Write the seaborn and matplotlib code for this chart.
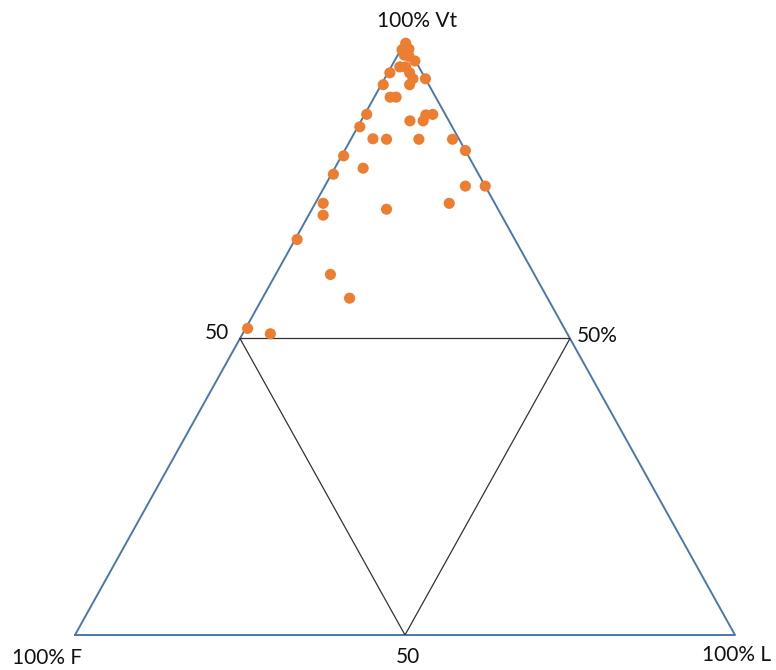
import pandas as pd
import matplotlib
matplotlib.use("Agg")
import matplotlib.pyplot as plt
import seaborn as sns

# ternary composition of each sample, in percent (Vt, F, L)
vt_pct = [99.8, 98.7, 98.8, 97.8, 97.6, 96.8, 95.8, 95.8, 94.8, 94.8,
          93.8, 93.8, 92.8, 92.8, 90.7, 90.7, 87.8, 85.7, 83.6, 83.6,
          86.7, 86.7, 87.7, 87.7, 83.6, 83.6, 81.7, 80.8, 77.7, 78.8,
          75.7, 75.7, 72.8, 72.8, 70.8, 71.8, 66.7, 60.8, 56.8, 51.7, 50.8]
f_pct = [0.0, 1.1, 0.0, 1.2, 0.6, 0.1, 2.9, 2.0, 1.9, 4.9,
         1.9, 0.0, 2.9, 6.9, 6.9, 6.0, 11.9, 14.0, 13.0, 11.0,
         5.9, 3.9, 3.0, 1.9, 6.1, 1.0, 0.0, 18.9, 22.0, 17.0,
         3.0, 0.0, 6.9, 26.0, 27.0, 16.9, 33.0, 30.9, 30.0, 48.0, 45.0]
l_pct = [0.2, 0.2, 1.2, 1.0, 1.8, 3.1, 1.3, 2.2, 3.3, 0.3,
         4.3, 6.2, 4.3, 0.3, 2.4, 3.3, 0.3, 0.3, 3.3, 5.4,
         7.4, 9.4, 9.3, 10.3, 10.3, 15.4, 18.3, 0.3, 0.3, 4.3,
         21.3, 24.3, 20.3, 1.2, 2.2, 11.3, 0.3, 8.3, 13.2, 0.3, 4.2]

corner_labels = ["100% F", "100% L", "100% Vt"]

df = pd.DataFrame({"Vt": vt_pct, "F": f_pct, "L": l_pct})
tot = df[["Vt", "F", "L"]].sum(axis=1)
# F at (0,0), L at (1,0), Vt at (0.5,1)
df["x"] = (df["L"] + 0.5 * df["Vt"]) / tot
df["y"] = df["Vt"] / tot

sns.set_style("white")
plt.rcParams["font.family"] = ["Lato", "DejaVu Sans"]

fig = plt.figure(figsize=(7.76, 6.70), dpi=100)
ax = fig.add_axes([75 / 776, 35 / 670, 660 / 776, 593 / 670])
ax.set_xlim(0, 1)
ax.set_ylim(0, 1)
ax.axis("off")

# outer triangle
ax.plot([0, 1, 0.5, 0], [0, 0, 1, 0], color="#4a78ab", lw=1.4, clip_on=False, zorder=1)
# inner triangle through the 50% points
ax.plot([0.25, 0.75, 0.5, 0.25], [0.5, 0.5, 0, 0.5], color="#333333", lw=0.9, zorder=1)

sns.scatterplot(data=df, x="x", y="y", ax=ax, color="#ed7d31", s=64,
                edgecolor="none", clip_on=False, zorder=3)

fs = 15
txt = "#111111"
ax.text(-0.042, -0.039, corner_labels[0], ha="center", va="center", fontsize=fs, color=txt, clip_on=False)
ax.text(1.003, -0.034, corner_labels[1], ha="center", va="center", fontsize=fs, color=txt, clip_on=False)
ax.text(0.518, 1.035, corner_labels[2], ha="center", va="center", fontsize=fs, color=txt, clip_on=False)
ax.text(0.5045, -0.037, "50", ha="center", va="center", fontsize=fs, color=txt, clip_on=False)
ax.text(0.215, 0.510, "50", ha="center", va="center", fontsize=fs, color=txt, clip_on=False)
ax.text(0.791, 0.505, "50%", ha="center", va="center", fontsize=fs, color=txt, clip_on=False)

ax.set_xlabel("")
ax.set_ylabel("")
fig.savefig("out.png", dpi=100, facecolor="white")
